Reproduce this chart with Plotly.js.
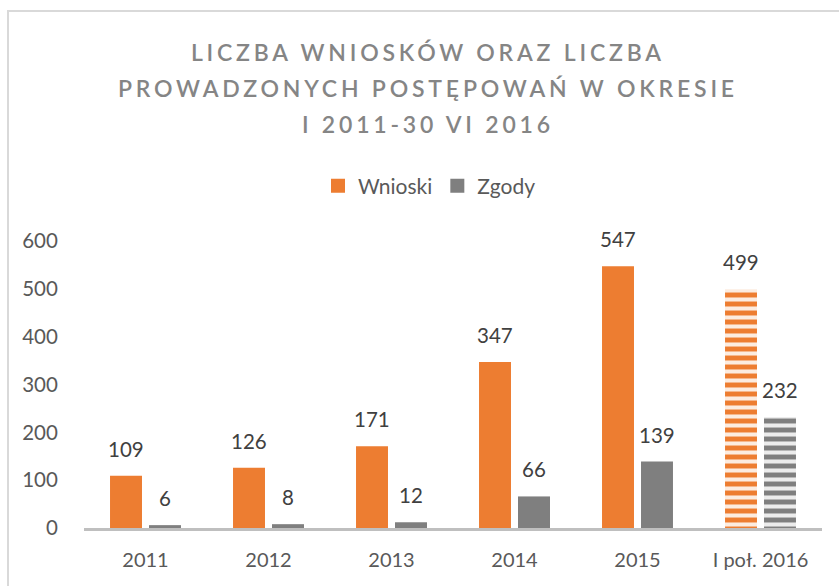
<!DOCTYPE html>
<html>
<head>
<meta charset="utf-8">
<script src="https://cdn.plot.ly/plotly-3.0.1.min.js"></script>
<style>
  html, body { margin: 0; padding: 0; background: #ffffff; }
  #chart { width: 839px; height: 586px; }
  .gtitle { letter-spacing: 3.8px; }
  #frame { position: fixed; left: 7px; top: 10px; width: 900px; height: 700px;
           border-left: 2px solid #d9d9d9; border-top: 2px solid #d9d9d9; pointer-events: none; }
</style>
</head>
<body>
<div id="chart"></div>
<div id="frame"></div>
<script>
const categories = ['2011', '2012', '2013', '2014', '2015', 'I poł. 2016'];
const wnioski = [109, 126, 171, 347, 547, 499];
const zgody = [6, 8, 12, 66, 139, 232];
const seriesNames = ['Wnioski', 'Zgody'];
const stripeShapes = ['', '', '', '', '', '-'];
const yTicks = [0, 100, 200, 300, 400, 500, 600];
const titleText = 'LICZBA WNIOSKÓW ORAZ LICZBA<br>PROWADZONYCH POSTĘPOWAŃ W OKRESIE<br>I 2011-30 VI 2016';

const FONT = 'Lato, "Open Sans", sans-serif';
const colors = ['#ED7D31', '#7F7F7F'];

function barTrace(name, values, color) {
  return {
    type: 'bar', name: name, x: categories, y: values,
    marker: {
      color: color, line: { width: 0 },
      pattern: { shape: stripeShapes, fillmode: 'overlay', fgcolor: '#ffffff', fgopacity: 0.85, size: 9, solidity: 0.45 }
    },
    hoverinfo: 'x+y'
  };
}

const data = [barTrace(seriesNames[0], wnioski, colors[0]), barTrace(seriesNames[1], zgody, colors[1])];

const annotations = [];
[wnioski, zgody].forEach(function (vals, si) {
  vals.forEach(function (v, i) {
    annotations.push({
      x: i, y: v, xref: 'x', yref: 'y',   // i = category index on the category axis
      text: String(v), showarrow: false,
      xshift: si === 0 ? -19.5 : 19.5, yshift: 13,
      yanchor: 'bottom', xanchor: 'center',
      font: { family: FONT, size: 20.5, color: '#404040' }
    });
  });
});

const layout = {
  width: 839, height: 586,
  margin: { l: 84, r: 17, t: 241, b: 58 },
  paper_bgcolor: '#ffffff', plot_bgcolor: '#ffffff',
  font: { family: FONT, color: '#595959' },
  title: {
    text: titleText,
    font: { family: FONT, size: 23, color: '#858585', weight: 600 },
    xref: 'container', yref: 'container',
    x: 0.51, xanchor: 'center', y: 1 - 61 / 586, yanchor: 'top'
  },
  barmode: 'group', bargap: 0.366, bargroupgap: 0.18,
  showlegend: true,
  legend: {
    orientation: 'h', xref: 'container', yref: 'container',
    x: 318 / 839, xanchor: 'left', y: 1 - 186 / 586, yanchor: 'middle',
    font: { family: FONT, size: 21, color: '#595959' },
    bgcolor: 'rgba(0,0,0,0)'
  },
  xaxis: {
    type: 'category', range: [-0.5, 5.5], autorange: false,
    showgrid: false, zeroline: false,
    showline: true, linecolor: '#bfbfbf', linewidth: 3,
    ticks: 'outside', ticklen: 12, tickcolor: 'rgba(0,0,0,0)',
    tickfont: { family: FONT, size: 20, color: '#595959' }
  },
  yaxis: {
    range: [0, 600], autorange: false, tickvals: yTicks, showgrid: false, zeroline: false,
    showline: false, ticks: 'outside', ticklen: 21, tickcolor: 'rgba(0,0,0,0)',
    tickfont: { family: FONT, size: 20.5, color: '#595959' }
  },
  annotations: annotations
};

Plotly.newPlot('chart', data, layout, { displayModeBar: false, staticPlot: true }).then(function () {
  document.querySelectorAll('.gtitle tspan.line').forEach(function (t, i) {
    if (i > 0) t.setAttribute('dy', (i * 1.57).toFixed(2) + 'em');
  });
  document.querySelectorAll('.legendpoints path').forEach(function (p) {
    p.setAttribute('d', 'M7,7H-7V-7H7Z');
  });
});
</script>
</body>
</html>
